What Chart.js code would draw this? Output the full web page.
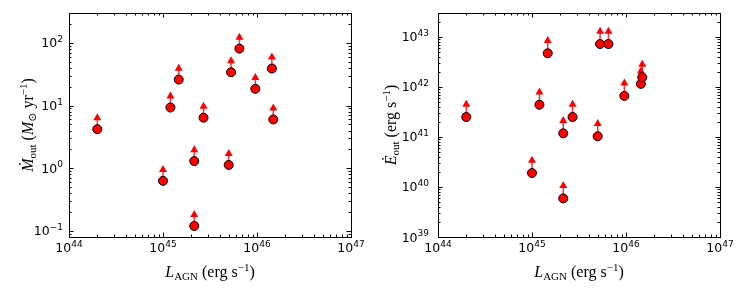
<!DOCTYPE html>
<html>
<head>
<meta charset="utf-8">
<script src="https://cdn.jsdelivr.net/npm/chart.js@4.4.0/dist/chart.umd.min.js"></script>
<style>
  body { margin: 0; background: #fff; }
  #wrap { position: relative; width: 747px; height: 299px; }
  .panel { position: absolute; top: 0; height: 299px; }
  #left { left: 0; width: 370px; }
  #right { left: 370px; width: 377px; }
</style>
</head>
<body>
<div id="wrap">
  <div class="panel" id="left"><canvas id="mdotChart"></canvas></div>
  <div class="panel" id="right"><canvas id="edotChart"></canvas></div>
</div>
<script>
// Data
const lAgn = [2e44, 1e45, 1.2e45, 1.47e45, 2.15e45, 2.15e45, 2.7e45, 5.0e45, 5.3e45, 6.5e45, 9.6e45, 1.44e46, 1.49e46];
const mdotOut = [4.2, 0.63, 9.3, 26, 1.3, 0.12, 6.4, 1.13, 34, 81, 18.5, 39, 6.0];
const edotOut = [2.5e41, 1.9e40, 4.4e41, 4.7e42, 1.18e41, 5.9e39, 2.5e41, 1.03e41, 7.2e42, 7.2e42, 6.6e41, 1.15e42, 1.56e42];
const xTickExps = [44, 45, 46, 47];
const mdotTickExps = [-1, 0, 1, 2];
const edotTickExps = [39, 40, 41, 42, 43];

const SANS = '"DejaVu Sans", sans-serif';
const SERIF = '"Liberation Serif", "DejaVu Serif", serif';

// Draw a run of text pieces (for sub/superscripts)
function drawRich(ctx, parts, x, y, align) {
  let total = 0;
  parts.forEach(p => { ctx.font = p.font; total += ctx.measureText(p.t).width; });
  let cx = align === 'center' ? x - total / 2 : align === 'right' ? x - total : x;
  ctx.textAlign = 'left';
  ctx.textBaseline = 'alphabetic';
  parts.forEach(p => {
    ctx.font = p.font;
    ctx.fillText(p.t, cx, y + (p.dy || 0));
    cx += ctx.measureText(p.t).width;
  });
}

function powLabel(exp) {
  const e = exp < 0 ? '\u2212' + Math.abs(exp) : String(exp);
  return [
    { t: '10', font: '12.5px ' + SANS },
    { t: e, font: '9px ' + SANS, dy: -5.5 }
  ];
}

// Arrows for lower limits, drawn through the scales
const arrowPlugin = {
  id: 'arrows',
  beforeDatasetsDraw(chart, args, opts) {
    const { ctx, scales } = chart;
    const pts = chart.data.datasets[0].data;
    ctx.save();
    pts.forEach(pt => {
      const px = scales.x.getPixelForValue(pt.x);
      const py = scales.y.getPixelForValue(pt.y);
      const cy = scales.y.getPixelForValue(pt.y * opts.factor);
      ctx.strokeStyle = 'rgba(255,0,0,0.8)';
      ctx.lineWidth = 1.5;
      ctx.beginPath();
      ctx.moveTo(px, py);
      ctx.lineTo(px, cy);
      ctx.stroke();
      ctx.fillStyle = '#ff0000';
      ctx.beginPath();
      ctx.moveTo(px, cy - 4);
      ctx.lineTo(px - 4, cy + 3);
      ctx.lineTo(px + 4, cy + 3);
      ctx.closePath();
      ctx.fill();
    });
    ctx.restore();
  }
};

// Frame, inward ticks on all sides, tick labels and axis titles
const framePlugin = {
  id: 'frame',
  afterDraw(chart, args, opts) {
    const { ctx, chartArea: a, scales } = chart;
    ctx.save();
    ctx.strokeStyle = '#000';
    ctx.fillStyle = '#000';
    ctx.lineWidth = 1;

    const logTicks = (scale, cb) => {
      const lo = Math.floor(Math.log10(scale.min));
      const hi = Math.ceil(Math.log10(scale.max));
      for (let d = lo; d <= hi; d++) {
        for (let m = 1; m <= 9; m++) {
          const v = m * Math.pow(10, d);
          if (v < scale.min * 0.999 || v > scale.max * 1.001) continue;
          cb(scale.getPixelForValue(v), m === 1 ? 4.5 : 2.5);
        }
      }
    };
    ctx.beginPath();
    logTicks(scales.x, (p, len) => {
      const x = Math.round(p) + 0.5;
      ctx.moveTo(x, a.bottom); ctx.lineTo(x, a.bottom - len);
      ctx.moveTo(x, a.top); ctx.lineTo(x, a.top + len);
    });
    logTicks(scales.y, (p, len) => {
      const y = Math.round(p) + 0.5;
      ctx.moveTo(a.left, y); ctx.lineTo(a.left + len, y);
      ctx.moveTo(a.right, y); ctx.lineTo(a.right - len, y);
    });
    ctx.stroke();
    ctx.strokeRect(Math.round(a.left) + 0.5, Math.round(a.top) + 0.5,
      Math.round(a.right - a.left), Math.round(a.bottom - a.top));

    // tick labels
    xTickExps.forEach(e => {
      drawRich(ctx, powLabel(e), scales.x.getPixelForValue(Math.pow(10, e)), a.bottom + 15, 'center');
    });
    opts.yExps.forEach(e => {
      drawRich(ctx, powLabel(e), a.left - opts.yLabelGap, scales.y.getPixelForValue(Math.pow(10, e)) + 4.5, 'right');
    });

    // x title
    const big = '16px ' + SERIF, bigIt = 'italic 16px ' + SERIF, small = '11px ' + SERIF;
    drawRich(ctx, [
      { t: 'L', font: bigIt },
      { t: 'AGN', font: small, dy: 3 },
      { t: ' (erg s', font: big },
      { t: '\u22121', font: small, dy: -6.5 },
      { t: ')', font: big }
    ], (a.left + a.right) / 2, 277, 'center');

    // y title
    ctx.translate(opts.yTitleX, (a.top + a.bottom) / 2);
    ctx.rotate(-Math.PI / 2);
    drawRich(ctx, opts.yTitle(big, bigIt, small), 0, 0, 'center');
    ctx.restore();
  }
};

function makeChart(id, yData, yMin, yMax, padRight, pluginOpts, factor) {
  return new Chart(document.getElementById(id), {
    type: 'scatter',
    data: {
      datasets: [{
        data: lAgn.map((x, i) => ({ x: x, y: yData[i] })),
        backgroundColor: '#ff0000',
        borderColor: '#000000',
        borderWidth: 1,
        pointRadius: 4.5,
        pointHoverRadius: 4.5
      }]
    },
    options: {
      responsive: true,
      maintainAspectRatio: false,
      animation: false,
      layout: { padding: { top: 13, right: padRight, left: 0, bottom: 0 } },
      plugins: {
        legend: { display: false },
        tooltip: { enabled: false },
        arrows: { factor: factor },
        frame: pluginOpts
      },
      scales: {
        x: {
          type: 'logarithmic', min: 1e44, max: 1e47,
          grid: { display: false }, border: { display: false },
          ticks: { display: false },
          afterFit(scale) { scale.height = 62; }
        },
        y: {
          type: 'logarithmic', min: yMin, max: yMax,
          grid: { display: false }, border: { display: false },
          ticks: { display: false },
          afterFit(scale) { scale.width = pluginOpts.axisWidth; }
        }
      }
    },
    plugins: [arrowPlugin, framePlugin]
  });
}

makeChart('mdotChart', mdotOut, 0.08, 300, 19, {
  axisWidth: 69,
  yExps: mdotTickExps,
  yLabelGap: 6,
  yTitleX: 33,
  yTitle: (big, bigIt, small) => [
    { t: '\u1E40', font: bigIt },
    { t: 'out', font: small, dy: 3 },
    { t: ' (', font: big },
    { t: 'M', font: bigIt },
    { t: '\u2299', font: small, dy: 3 },
    { t: ' yr', font: big },
    { t: '\u22121', font: small, dy: -6.5 },
    { t: ')', font: big }
  ]
}, 1.55);

makeChart('edotChart', edotOut, 1e39, 3e43, 27, {
  axisWidth: 68,
  yExps: edotTickExps,
  yLabelGap: 9,
  yTitleX: 26,
  yTitle: (big, bigIt, small) => [
    { t: '\u0116', font: bigIt },
    { t: 'out', font: small, dy: 3 },
    { t: ' (erg s', font: big },
    { t: '\u22121', font: small, dy: -6.5 },
    { t: ')', font: big }
  ]
}, 1.85);
</script>
</body>
</html>
